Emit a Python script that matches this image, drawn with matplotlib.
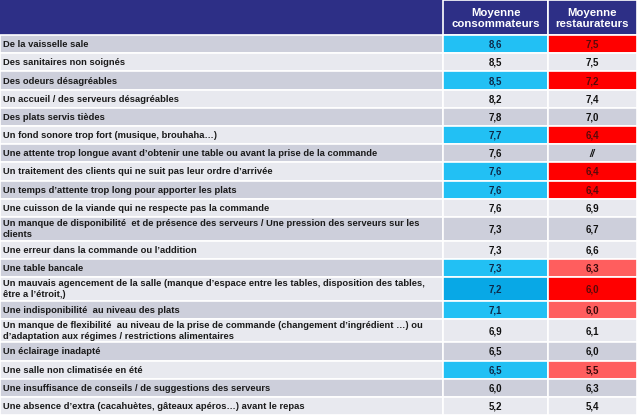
import matplotlib.pyplot as plt
from matplotlib.patches import Rectangle

plt.rcParams['font.family'] = ['Liberation Sans', 'DejaVu Sans']

# ---- table data ----
headers = ["Moyenne\nconsommateurs", "Moyenne\nrestaurateurs"]

labels = [
    "De la vaisselle sale",
    "Des sanitaires non soignés",
    "Des odeurs désagréables",
    "Un accueil / des serveurs désagréables",
    "Des plats servis tièdes",
    "Un fond sonore trop fort (musique, brouhaha…)",
    "Une attente trop longue avant d’obtenir une table ou avant la prise de la commande",
    "Un traitement des clients qui ne suit pas leur ordre d’arrivée",
    "Un temps d’attente trop long pour apporter les plats",
    "Une cuisson de la viande qui ne respecte pas la commande",
    "Un manque de disponibilité  et de présence des serveurs / Une pression des serveurs sur les\nclients",
    "Une erreur dans la commande ou l’addition",
    "Une table bancale",
    "Un mauvais agencement de la salle (manque d’espace entre les tables, disposition des tables,\nêtre a l’étroit,)",
    "Une indisponibilité  au niveau des plats",
    "Un manque de flexibilité  au niveau de la prise de commande (changement d’ingrédient …) ou\nd’adaptation aux régimes / restrictions alimentaires",
    "Un éclairage inadapté",
    "Une salle non climatisée en été",
    "Une insuffisance de conseils / de suggestions des serveurs",
    "Une absence d’extra (cacahuètes, gâteaux apéros…) avant le repas",
]

conso = [8.6, 8.5, 8.5, 8.2, 7.8, 7.7, 7.6, 7.6, 7.6, 7.6,
         7.3, 7.3, 7.3, 7.2, 7.1, 6.9, 6.5, 6.5, 6.0, 5.2]
resto = [7.5, 7.5, 7.2, 7.4, 7.0, 6.4, None, 6.4, 6.4, 6.9,
         6.7, 6.6, 6.3, 6.0, 6.0, 6.1, 6.0, 5.5, 6.3, 5.4]

# highlight level per row: 2 = strong, 1 = light, 0 = none
highlight = [2, 0, 2, 0, 0, 2, 0, 2, 2, 0,
             0, 0, 1, 2, 1, 0, 0, 1, 0, 0]

# ---- styles ----
NAVY = "#2d2f86"
DARK_ROW = "#cdcfdb"
LIGHT_ROW = "#e8e9ef"
BLUE = "#22c0f4"
BLUE_STRONG = "#08a8e6"
RED = "#ff0000"
RED_LIGHT = "#ff5e5e"

W, H = 640, 418
col_x = [0, 443, 548, 637]
header_h = 35
single_h = 18.2
double_h = 23.6

fig = plt.figure(figsize=(W / 100, H / 100), dpi=100)
ax = fig.add_axes([0, 0, 1, 1])
ax.set_xlim(0, W)
ax.set_ylim(H, 0)
ax.axis("off")

# header
ax.add_patch(Rectangle((col_x[0], 0), col_x[3] - col_x[0], header_h,
                       facecolor=NAVY, edgecolor="none"))
for i, h in enumerate(headers):
    ax.add_patch(Rectangle((col_x[i + 1], 0), col_x[i + 2] - col_x[i + 1], header_h,
                           facecolor=NAVY, edgecolor="white", linewidth=1.2))
    ax.text((col_x[i + 1] + col_x[i + 2]) / 2, header_h / 2 + 1, h,
            ha="center", va="center", color="white", fontsize=8.2,
            fontweight="bold", linespacing=1.05)

# rows
y = header_h
for i, lab in enumerate(labels):
    rh = double_h if "\n" in lab else single_h
    base = DARK_ROW if i % 2 == 0 else LIGHT_ROW
    c_bg = base
    r_bg = base
    c_txt = "#111111"
    r_txt = "#111111"
    if highlight[i] == 2:
        c_bg = BLUE_STRONG if i == 13 else BLUE
        r_bg = RED
        c_txt = "#0d2a4a"
        r_txt = "#5a0a0a"
    elif highlight[i] == 1:
        c_bg = BLUE
        r_bg = RED_LIGHT
        c_txt = "#0d2a4a"
        r_txt = "#3a0a0a"

    for x0, x1, fc in [(col_x[0], col_x[1], base), (col_x[1], col_x[2], c_bg),
                       (col_x[2], col_x[3], r_bg)]:
        ax.add_patch(Rectangle((x0, y), x1 - x0, rh, facecolor=fc,
                               edgecolor="white", linewidth=1.2))

    cy = y + rh / 2 + 0.5
    ax.text(col_x[0] + 3, cy, lab, ha="left", va="center", fontsize=6.75,
            fontweight="bold", color="#1a1a1a", linespacing=1.3)
    ax.text((col_x[1] + col_x[2]) / 2, cy, f"{conso[i]:.1f}".replace(".", ","),
            ha="center", va="center", fontsize=7, fontweight="bold", color=c_txt)
    rv = "//" if resto[i] is None else f"{resto[i]:.1f}".replace(".", ",")
    ax.text((col_x[2] + col_x[3]) / 2, cy, rv, ha="center", va="center",
            fontsize=7, fontweight="bold", color=r_txt,
            style="italic" if resto[i] is None else "normal")
    y += rh

fig.savefig("out.png", dpi=100, facecolor="white")
